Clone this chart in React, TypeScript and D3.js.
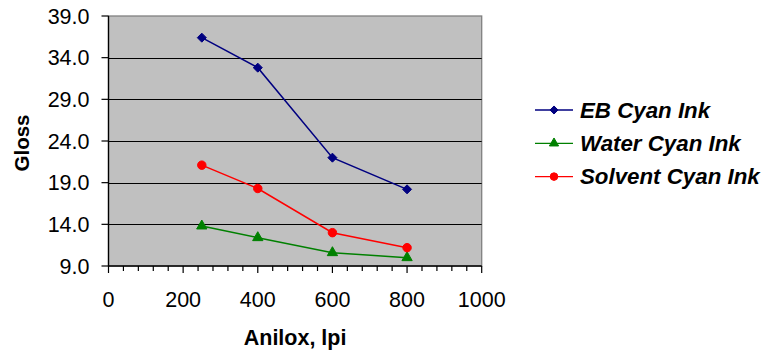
import React from 'react';
import * as d3 from 'd3';

const anilox = [250, 400, 600, 800];
const ebCyan = [36.4, 32.8, 22.0, 18.2];
const waterCyan = [13.8, 12.4, 10.6, 10.0];
const solventCyan = [21.1, 18.3, 13.0, 11.2];
const yTicks = [9, 14, 19, 24, 29, 34, 39];
const xTicks = [0, 200, 400, 600, 800, 1000];
const seriesNames = ['EB Cyan Ink', 'Water Cyan Ink', 'Solvent Cyan Ink'];

const W = 767;
const H = 354;
const plot = { left: 108.5, right: 481.7, top: 16, bottom: 266 };
const FONT = '"Liberation Sans", Arial, sans-serif';

const series = [
  { name: seriesNames[0], values: ebCyan, color: '#000080', symbol: d3.symbolDiamond2, size: 52 },
  { name: seriesNames[1], values: waterCyan, color: '#008000', symbol: d3.symbolTriangle, size: 46 },
  { name: seriesNames[2], values: solventCyan, color: '#FF0000', symbol: d3.symbolCircle, size: 56 },
];

export default function App() {
  const x = d3.scaleLinear().domain([0, 1000]).range([plot.left, plot.right]);
  const y = d3.scaleLinear().domain([9, 39]).range([plot.bottom, plot.top]);
  const minor = d3.range(0, 1001, 40).filter(v => v % 200 !== 0);

  return (
    <svg width={W} height={H} style={{ position: 'absolute', left: 0, top: 0, background: '#fff' }} fontFamily={FONT}>
      {/* plot area */}
      <rect x={plot.left} y={plot.top} width={plot.right - plot.left} height={plot.bottom - plot.top}
        fill="#C0C0C0" stroke="#808080" strokeWidth={1.3} />
      {yTicks.slice(1, -1).map(t => (
        <line key={t} x1={plot.left} x2={plot.right} y1={Math.round(y(t)) + 0.5} y2={Math.round(y(t)) + 0.5}
          stroke="#000" strokeWidth={1} />
      ))}

      {/* axes */}
      <line x1={plot.left} x2={plot.left} y1={plot.top} y2={plot.bottom} stroke="#000" strokeWidth={1.3} />
      <line x1={plot.left} x2={plot.right} y1={plot.bottom} y2={plot.bottom} stroke="#000" strokeWidth={1.3} />
      {yTicks.map(t => (
        <g key={t}>
          <line x1={plot.left - 7} x2={plot.left} y1={y(t)} y2={y(t)} stroke="#000" strokeWidth={1.2} />
          <text x={89.5} y={y(t) + 7.5} textAnchor="end" fontSize={21.5}>{t.toFixed(1)}</text>
        </g>
      ))}
      {xTicks.map(t => (
        <g key={t}>
          <line x1={x(t)} x2={x(t)} y1={plot.bottom} y2={plot.bottom + 7} stroke="#000" strokeWidth={1.2} />
          <text x={x(t)} y={306.7} textAnchor="middle" fontSize={21.5}>{t}</text>
        </g>
      ))}
      {minor.map(t => (
        <line key={t} x1={x(t)} x2={x(t)} y1={plot.bottom} y2={plot.bottom + 5} stroke="#000" strokeWidth={1.2} />
      ))}

      {/* axis titles */}
      <text transform="translate(29,143) rotate(-90)" textAnchor="middle" fontSize={20.5} fontWeight="bold">Gloss</text>
      <text x={(plot.left + plot.right) / 2} y={345} textAnchor="middle" fontSize={21.5} fontWeight="bold">Anilox, lpi</text>

      {/* series */}
      {series.map(s => {
        const pts = anilox.map((a, i) => [x(a), y(s.values[i])] as [number, number]);
        const sym = d3.symbol().type(s.symbol).size(s.size)();
        return (
          <g key={s.name}>
            <path d={d3.line()(pts) || ''} fill="none" stroke={s.color} strokeWidth={1.5} />
            {pts.map((p, i) => (
              <path key={i} d={sym || ''} transform={`translate(${p[0]},${p[1]})`} fill={s.color}
                stroke={s.color} strokeWidth={1} strokeLinejoin="round" />
            ))}
          </g>
        );
      })}

      {/* legend */}
      {series.map((s, i) => {
        const cy = 110 + i * 33.3;
        const sym = d3.symbol().type(s.symbol).size(s.size * 0.8)();
        return (
          <g key={s.name}>
            <line x1={535} x2={573} y1={cy} y2={cy} stroke={s.color} strokeWidth={1.3} />
            <path d={sym || ''} transform={`translate(554,${cy})`} fill={s.color}
              stroke={s.color} strokeWidth={1} strokeLinejoin="round" />
            <text x={580} y={cy + 7.8} fontSize={22.3} fontWeight="bold" fontStyle="italic">{s.name}</text>
          </g>
        );
      })}
    </svg>
  );
}
